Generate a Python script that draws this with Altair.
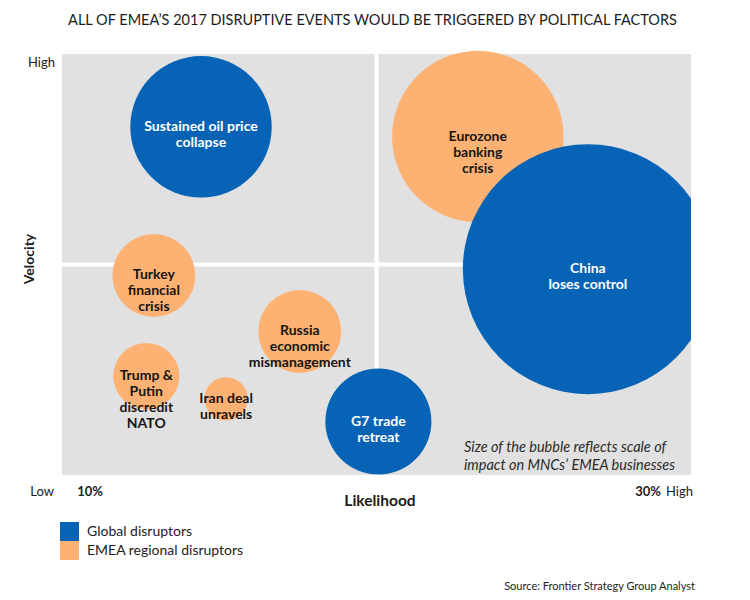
import altair as alt
import pandas as pd

# Disruptive events: likelihood (x) vs velocity (y), bubble area = scale of impact
events = [
    "Sustained oil price\ncollapse",
    "Eurozone\nbanking\ncrisis",
    "China\nloses control",
    "Turkey\nfinancial\ncrisis",
    "Russia\neconomic\nmismanagement",
    "Trump &\nPutin\ndiscredit\nNATO",
    "Iran deal\nunravels",
    "G7 trade\nretreat",
]
groups = [
    "Global disruptors",
    "EMEA regional disruptors",
    "Global disruptors",
    "EMEA regional disruptors",
    "EMEA regional disruptors",
    "EMEA regional disruptors",
    "EMEA regional disruptors",
    "Global disruptors",
]
likelihood = [22.1, 66.1, 83.6, 14.6, 37.8, 13.4, 26.1, 50.3]
velocity = [82.7, 80.4, 48.9, 47.4, 34.1, 23.5, 18.1, 12.7]
impact = [32, 47, 100, 11, 11, 7, 3, 18]

group_order = ["Global disruptors", "EMEA regional disruptors"]
group_colors = ["#0663b5", "#fdb273"]

W, H = 629, 421
FONT = "Lato"

df = pd.DataFrame({
    "event": events,
    "group": groups,
    "likelihood": likelihood,
    "velocity": velocity,
    "impact": impact,
})

x_enc = alt.X("likelihood:Q", scale=alt.Scale(domain=[0, 100], nice=False, zero=False), axis=None)
y_enc = alt.Y("velocity:Q", scale=alt.Scale(domain=[0, 100], nice=False, zero=False), axis=None)
size_enc = alt.Size("impact:Q", scale=alt.Scale(domain=[0, 100], range=[0, 62500], zero=True), legend=None)
color_enc = alt.Color(
    "group:N",
    scale=alt.Scale(domain=group_order, range=group_colors),
    legend=alt.Legend(
        title=None,
        orient="none",
        legendX=-2,
        legendY=468,
        symbolType="square",
        symbolSize=361,
        symbolStrokeWidth=0,
        symbolOpacity=1,
        labelFont=FONT,
        labelFontSize=14,
        labelColor="#222222",
        labelOffset=8,
        rowPadding=0,
    ),
)

base = alt.Chart(df)

# Quadrant dividers at the midpoints of both scales
mid = pd.DataFrame({"m": [50]})
vline = alt.Chart(mid).mark_rule(color="white", strokeWidth=4).encode(x=alt.X("m:Q", scale=alt.Scale(domain=[0, 100], nice=False), axis=None))
hline = alt.Chart(mid).mark_rule(color="white", strokeWidth=4).encode(y=alt.Y("m:Q", scale=alt.Scale(domain=[0, 100], nice=False), axis=None))

bubbles = base.transform_filter(alt.datum.impact < 100).mark_circle(opacity=1, clip=False).encode(
    x=x_enc, y=y_enc, size=size_enc, color=color_enc
)
big_bubble = base.transform_filter(alt.datum.impact >= 100).mark_circle(opacity=1, clip=True).encode(
    x=x_enc, y=y_enc, size=size_enc, color=color_enc
)

labels = base.mark_text(
    font=FONT, fontSize=14, fontWeight="bold", lineBreak="\n", lineHeight=16,
    align="center", baseline="middle",
).encode(
    x=x_enc, y=y_enc, text="event:N",
    color=alt.condition(alt.datum.group == "Global disruptors", alt.value("white"), alt.value("#151515")),
)


def note(text, x, y, **kw):
    props = dict(font=FONT, fontSize=13, color="#1c1c1c", baseline="middle", lineBreak="\n")
    props.update(kw)
    return alt.Chart(pd.DataFrame({"t": [text]})).mark_text(**props).encode(
        text="t:N", x=alt.value(x), y=alt.value(y)
    )


annotations = [
    note("ALL OF EMEA\u2019S 2017 DISRUPTIVE EVENTS WOULD BE TRIGGERED BY POLITICAL FACTORS", W / 2 - 4, -33, fontSize=14.5, align="center"),
    note("High", -7, 9, align="right"),
    note("Low", -8, 438, align="right"),
    note("10%", 28, 438, align="center", fontWeight="bold"),
    note("30%", 586, 438, align="center", fontWeight="bold"),
    note("High", 604, 438, align="left"),
    note("Likelihood", 318, 447, align="center", fontWeight="bold", fontSize=15.5),
    note("Velocity", -32, 205, align="center", fontWeight="bold", fontSize=14, angle=270),
    note("Size of the bubble reflects scale of\nimpact on MNCs\u2019 EMEA businesses", 402, 394,
         align="left", fontStyle="italic", fontSize=14.5, lineHeight=18, color="#2b2b2b"),
    note("Source: Frontier Strategy Group Analyst", 633, 533, align="right", fontSize=11),
]

chart = alt.layer(vline, hline, bubbles, big_bubble, labels, *annotations).properties(
    width=W,
    height=H,
    autosize=alt.AutoSizeParams(type="none"),
    padding={"left": 62, "top": 54, "right": 59, "bottom": 125},
    background="white",
).configure_view(fill="#e1e1e1", stroke=None)

chart.save("out.html", embed_options={"renderer": "svg", "actions": False})
